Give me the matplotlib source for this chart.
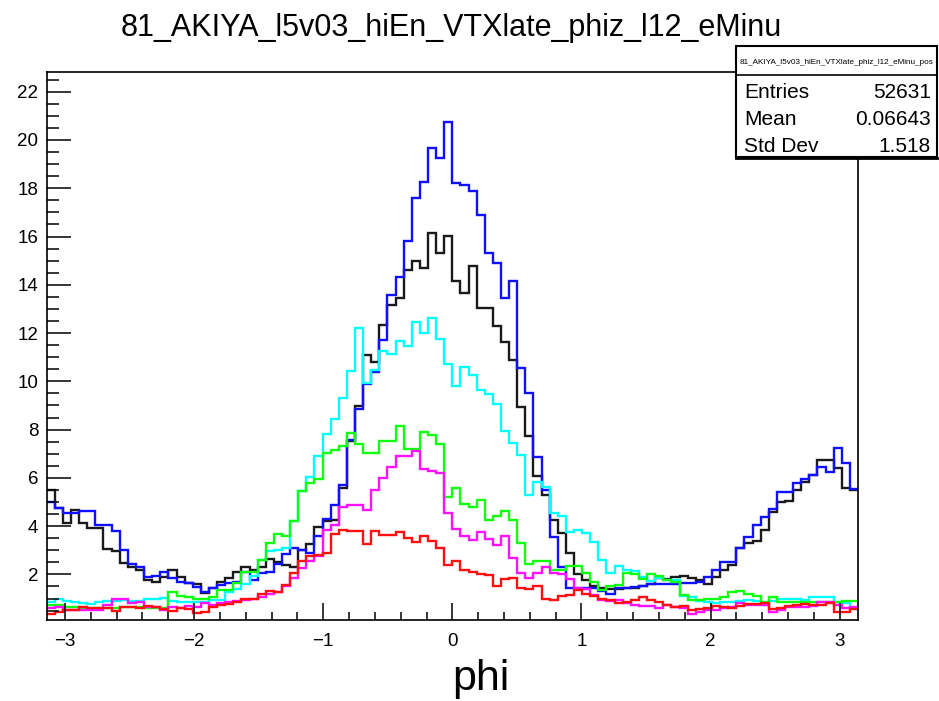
import numpy as np
import matplotlib
matplotlib.use("Agg")
import matplotlib.pyplot as plt
from matplotlib.patches import Rectangle
from matplotlib.ticker import MultipleLocator

plt.rcParams['font.family'] = ['Liberation Sans', 'DejaVu Sans']

title = "81_AKIYA_l5v03_hiEn_VTXlate_phiz_l12_eMinu"
stats_name = "81_AKIYA_l5v03_hiEn_VTXlate_phiz_l12_eMinu_pos"
stats_labels = ["Entries", "Mean", "Std Dev"]
stats_values = ["52631", "0.06643", "1.518"]
xlabel = "phi"
n_bins = 100
x_range = (-np.pi, np.pi)

black = [5.50, 4.74, 4.11, 4.67, 4.14, 3.93, 3.93, 3.05, 2.98, 2.46,
         2.32, 2.18, 1.76, 1.70, 1.90, 2.18, 1.90, 1.63, 1.60, 1.21,
         1.42, 1.70, 1.84, 2.11, 2.32, 2.20, 2.30, 2.65, 2.50, 2.40,
         2.30, 3.03, 3.27, 3.95, 4.23, 4.27, 5.60, 7.52, 8.96, 11.10,
         10.82, 12.35, 13.18, 13.46, 14.60, 14.98, 14.70, 16.16, 15.30, 16.02,
         14.17, 13.66, 14.78, 13.02, 13.02, 12.30, 11.63, 10.87, 8.95, 7.75,
         6.06, 5.30, 4.26, 3.72, 2.89, 2.00, 1.75, 1.50, 1.42, 1.38,
         1.38, 1.45, 1.45, 1.50, 1.60, 1.83, 1.80, 1.90, 1.95, 1.83,
         1.76, 1.60, 1.90, 2.20, 2.40, 3.10, 3.30, 3.38, 3.85, 4.60,
         5.00, 5.05, 5.50, 5.83, 6.12, 6.74, 6.74, 6.42, 5.56, 5.50]

blue = [5.01, 4.74, 4.56, 4.56, 4.64, 4.64, 4.04, 4.04, 3.81, 3.01,
        2.41, 2.32, 1.90, 1.95, 2.08, 1.86, 1.70, 1.66, 1.49, 1.28,
        1.45, 1.56, 1.66, 1.70, 2.11, 1.75, 2.06, 2.10, 2.43, 2.86,
        3.10, 3.03, 2.90, 3.60, 4.30, 4.88, 5.70, 7.55, 8.85, 9.90,
        10.40, 11.70, 13.57, 14.33, 15.80, 17.59, 18.24, 19.68, 19.25, 20.73,
        18.20, 18.12, 17.89, 16.88, 15.33, 14.90, 13.44, 14.16, 10.54, 9.50,
        6.88, 5.50, 3.56, 2.32, 1.44, 1.44, 1.45, 1.45, 1.30, 1.18,
        1.45, 1.45, 1.48, 1.50, 1.62, 1.60, 1.60, 1.60, 1.63, 1.63,
        1.70, 1.88, 2.18, 2.52, 2.52, 3.08, 3.56, 4.04, 4.39, 4.73,
        5.43, 5.43, 5.77, 5.94, 6.12, 6.46, 6.25, 7.22, 6.60, 5.52]

cyan = [0.84, 0.96, 0.89, 0.85, 0.80, 0.77, 0.84, 0.89, 0.88, 0.94,
        0.88, 0.89, 0.96, 0.96, 1.02, 0.91, 0.87, 0.87, 0.87, 0.87,
        0.94, 0.94, 1.25, 1.40, 1.60, 1.95, 2.60, 2.95, 3.00, 3.10,
        4.20, 5.45, 6.03, 6.90, 7.80, 8.43, 9.30, 10.42, 12.22, 9.95,
        10.46, 11.25, 11.12, 11.69, 11.48, 12.46, 12.01, 12.64, 11.76, 10.70,
        9.80, 10.60, 10.25, 9.65, 9.48, 9.06, 7.95, 7.44, 6.95, 5.30,
        5.83, 5.62, 4.55, 4.42, 3.75, 3.85, 3.70, 3.34, 2.60, 2.06,
        2.33, 2.19, 2.12, 1.90, 1.73, 1.83, 1.76, 1.76, 1.12, 1.08,
        0.90, 0.85, 0.82, 0.85, 0.85, 0.88, 0.94, 0.90, 0.72, 0.90,
        0.96, 0.96, 0.96, 0.93, 1.07, 1.07, 1.07, 0.87, 0.80, 0.57]

green = [0.73, 0.73, 0.66, 0.66, 0.59, 0.59, 0.59, 0.59, 0.59, 0.66,
         0.66, 0.66, 0.62, 0.62, 0.62, 1.28, 1.10, 1.05, 1.00, 1.00,
         1.05, 1.35, 1.35, 1.65, 2.10, 2.10, 2.60, 3.28, 3.68, 3.58,
         4.22, 5.45, 5.80, 5.95, 7.04, 7.15, 7.33, 7.86, 7.40, 7.01,
         7.01, 7.51, 7.51, 8.13, 7.18, 7.18, 7.91, 7.78, 7.42, 5.20,
         5.60, 4.90, 4.78, 5.10, 4.25, 4.42, 4.64, 4.27, 3.30, 2.45,
         2.55, 2.55, 2.19, 2.19, 2.33, 2.33, 2.05, 1.70, 1.34, 1.50,
         1.55, 2.05, 2.00, 1.80, 2.00, 1.95, 1.75, 1.70, 1.14, 0.94,
         0.94, 0.97, 1.00, 1.07, 1.28, 1.32, 1.18, 1.10, 0.87, 1.07,
         0.87, 0.87, 0.87, 0.85, 0.85, 0.85, 0.87, 0.87, 0.88, 0.88]

magenta = [0.59, 0.66, 0.52, 0.52, 0.52, 0.52, 0.52, 0.73, 0.96, 0.96,
           0.80, 0.87, 0.66, 0.66, 0.52, 0.66, 0.59, 0.70, 0.66, 0.80,
           0.73, 0.80, 0.85, 0.88, 0.95, 1.00, 1.05, 1.20, 1.27, 1.52,
           1.87, 2.25, 2.57, 2.78, 3.85, 4.05, 4.80, 4.88, 4.88, 4.65,
           5.50, 6.00, 6.45, 6.92, 6.90, 7.12, 6.35, 6.30, 6.20, 4.55,
           3.90, 3.60, 3.42, 3.77, 3.45, 3.22, 3.60, 2.68, 2.05, 1.83,
           2.05, 2.30, 2.05, 2.00, 1.80, 1.45, 1.38, 1.15, 0.95, 0.88,
           0.93, 0.80, 0.75, 0.68, 0.68, 0.62, 0.73, 0.66, 0.62, 0.35,
           0.45, 0.52, 0.52, 0.59, 0.66, 0.80, 0.73, 0.73, 0.73, 0.45,
           0.52, 0.66, 0.66, 0.66, 0.70, 0.85, 0.85, 0.73, 0.62, 0.66]

red = [0.35, 0.45, 0.52, 0.52, 0.63, 0.60, 0.60, 0.60, 0.50, 0.63,
       0.66, 0.59, 0.69, 0.66, 0.55, 0.49, 0.59, 0.55, 0.42, 0.45,
       0.66, 0.73, 0.77, 0.87, 1.00, 1.00, 1.18, 1.30, 1.25, 1.55,
       2.05, 2.55, 2.77, 2.80, 2.90, 3.66, 3.85, 3.78, 3.80, 3.27,
       3.80, 3.63, 3.62, 3.76, 3.50, 3.34, 3.60, 3.38, 3.10, 2.40,
       2.56, 2.20, 2.10, 2.00, 1.98, 1.52, 1.80, 1.85, 1.45, 1.38,
       1.52, 1.00, 0.92, 1.10, 1.15, 1.34, 1.18, 1.12, 0.97, 0.92,
       0.82, 0.87, 0.95, 1.05, 0.95, 0.85, 0.73, 0.66, 0.70, 0.52,
       0.55, 0.60, 0.70, 0.66, 0.60, 0.70, 0.78, 0.78, 0.80, 0.55,
       0.60, 0.70, 0.72, 0.78, 0.75, 0.75, 0.80, 0.45, 0.45, 0.55]

series = [(black, "#1a1a1a"), (blue, "#1010ff"), (cyan, "#00ffff"),
          (green, "#10ff10"), (magenta, "#ff10ff"), (red, "#ff1010")]

W, H = 939, 701
fig = plt.figure(figsize=(W / 100, H / 100), dpi=100)
L, R, T, B = 46.7, 858.0, 71.7, 620.0
ax = fig.add_axes([L / W, 1 - B / H, (R - L) / W, (B - T) / H])

edges = np.linspace(x_range[0], x_range[1], n_bins + 1)
for vals, col in series:
    ax.stairs(vals, edges, baseline=None, color=col, linewidth=1.7)

ax.set_xlim(x_range)
ax.set_ylim(0.11, 22.83)

ax.xaxis.set_minor_locator(MultipleLocator(0.2))
ax.yaxis.set_minor_locator(MultipleLocator(0.5))
ax.set_yticks(np.arange(2, 23, 2))
ax.set_xticks(np.arange(-3, 4, 1))
ax.set_xticklabels([str(v) if v >= 0 else "\u2212" + str(-v) for v in range(-3, 4)])

ax.tick_params(axis='both', which='both', direction='in', top=False, right=False,
               labelsize=13.5, colors='black')
ax.tick_params(axis='y', which='major', length=17, width=1.1, pad=6)
ax.tick_params(axis='y', which='minor', length=8.5, width=1.1)
ax.tick_params(axis='x', which='major', length=12, width=1.1, pad=9)
ax.tick_params(axis='x', which='minor', length=6, width=1.1)
for s in ax.spines.values():
    s.set_linewidth(1.2)
    s.set_color('black')

fig.text(451.5 / W, 1 - 36 / H, title, ha='center', va='baseline', fontsize=22)
fig.text(481 / W, 1 - 690 / H, xlabel, ha='center', va='baseline', fontsize=31)

# stats box
bx0, bx1, by0, by1, bdiv = 736 / W, 937 / W, 1 - 157 / H, 1 - 46 / H, 1 - 75 / H
box = Rectangle((bx0, by0), bx1 - bx0, by1 - by0, transform=fig.transFigure,
                facecolor='white', edgecolor='black', linewidth=1.5, zorder=5)
fig.add_artist(box)
fig.add_artist(plt.Line2D([bx0, bx1], [by0 - 1.0 / H, by0 - 1.0 / H], transform=fig.transFigure,
                          color='black', linewidth=2.0, zorder=6))
fig.add_artist(plt.Line2D([bx0, bx1], [bdiv, bdiv], transform=fig.transFigure,
                          color='black', linewidth=1.2, zorder=6))
fig.text((bx0 + bx1) / 2, 1 - 62 / H, stats_name, ha='center', va='center',
         fontsize=5.9, zorder=7)
for i, (lab, val) in enumerate(zip(stats_labels, stats_values)):
    yb = 1 - (98 + 27 * i) / H
    fig.text(744 / W, yb, lab, ha='left', va='baseline', fontsize=15, zorder=7)
    fig.text(931 / W, yb, val, ha='right', va='baseline', fontsize=15, zorder=7)

fig.savefig("out.png", dpi=100, facecolor='white')
